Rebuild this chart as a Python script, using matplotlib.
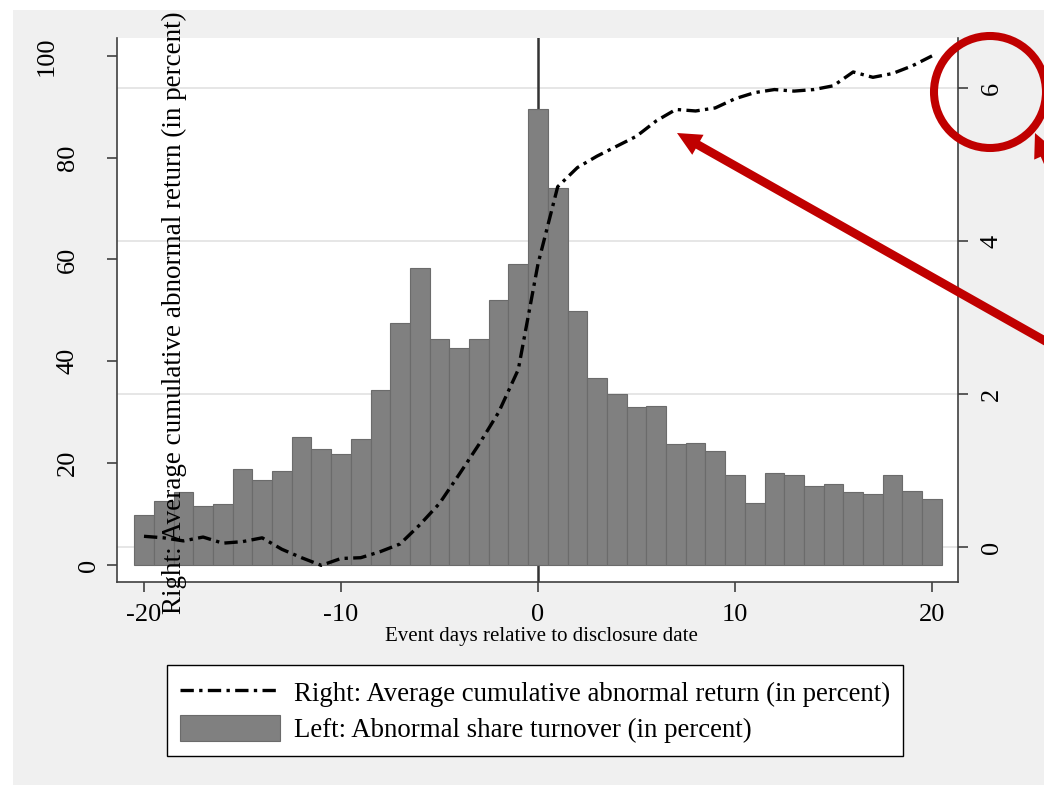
import matplotlib
matplotlib.use('Agg')
import matplotlib.pyplot as plt
import matplotlib.transforms as mtransforms
from matplotlib.patches import Rectangle, Circle, FancyArrow, Patch
from matplotlib.lines import Line2D

plt.rcParams['font.family'] = ['Liberation Serif', 'DejaVu Serif']
plt.rcParams['axes.unicode_minus'] = False

# ---------------- data ----------------
days = list(range(-20, 21))
turnover = [9.9, 12.5, 14.4, 11.5, 12.0, 18.8, 16.7, 18.5, 25.1, 22.8, 21.8,
            24.7, 34.3, 47.6, 58.3, 44.3, 42.6, 44.3, 52.0, 59.2, 89.6, 74.0,
            49.9, 36.8, 33.5, 31.1, 31.2, 23.7, 23.9, 22.4, 17.6, 12.1, 18.0,
            17.6, 15.5, 16.0, 14.3, 13.9, 17.7, 14.6, 13.0]
car = [0.14, 0.12, 0.08, 0.13, 0.05, 0.07, 0.12, -0.03, -0.14, -0.24, -0.15,
       -0.14, -0.06, 0.04, 0.29, 0.57, 0.95, 1.34, 1.76, 2.32, 3.70, 4.71,
       4.96, 5.11, 5.24, 5.37, 5.57, 5.72, 5.70, 5.74, 5.86, 5.94, 5.98,
       5.96, 5.98, 6.03, 6.21, 6.14, 6.19, 6.29, 6.42]
left_ticks = [0, 20, 40, 60, 80, 100]
left_tick_labels = ['0', '20', '40', '60', '80', '100']
right_ticks = [0, 2, 4, 6]
right_tick_labels = ['0', '2', '4', '6']
x_ticks = [-20, -10, 0, 10, 20]
x_tick_labels = ['-20', '-10', '0', '10', '20']
label_car = 'Right: Average cumulative abnormal return (in percent)'
label_turn = 'Left: Abnormal share turnover (in percent)'
xlabel = 'Event days relative to disclosure date'

# ---------------- figure ----------------
W, H = 1044, 785
fig = plt.figure(figsize=(W / 100, H / 100), dpi=100, facecolor='white')
T = mtransforms.Affine2D().scale(1, -1).translate(0, H)  # image pixels -> display

fig.add_artist(Rectangle((13, 10), W - 13, H - 10, transform=T,
                         facecolor='#f0f0f0', edgecolor='none', zorder=-10))

rect = [117 / W, 1 - 582 / H, (958 - 117) / W, (582 - 38) / H]
spine_col = '#404040'
fs = 19

# right-scale axes (background, gridlines, right ticks)
ax_r = fig.add_axes(rect, zorder=0)
ax_r.set_facecolor('white')
ax_r.set_ylim(-0.4575, 6.654)
ax_r.yaxis.tick_right()
ax_r.set_yticks(right_ticks)
ax_r.set_yticklabels([])
ax_r.grid(axis='y', color='#e6e6e6', lw=1.4)
ax_r.set_axisbelow(True)
ax_r.tick_params(axis='x', which='both', bottom=False, labelbottom=False)
ax_r.tick_params(axis='y', direction='out', length=7.2, width=1.2, color=spine_col)
for s in ['left', 'top', 'bottom']:
    ax_r.spines[s].set_visible(False)
ax_r.spines['right'].set_color(spine_col)
ax_r.spines['right'].set_linewidth(1.2)

# left-scale axes (bars)
ax_l = fig.add_axes(rect, zorder=1, sharex=ax_r)
ax_l.patch.set_visible(False)
ax_l.axvline(0, color='#333333', lw=1.8, zorder=1)
ax_l.bar(days, turnover, width=1.0, color='#808080', edgecolor='#6b6b6b',
         linewidth=0.8, zorder=2)
ls = (0, (4, 1.6, 1, 1.6))
ax_l.plot(days, car, transform=ax_r.transData, color='black', lw=2.4,
          linestyle=ls, dash_capstyle='butt', zorder=3)
ax_l.set_xlim(-21.37, 21.32)
ax_l.set_ylim(-3.34, 103.5)
ax_l.set_yticks(left_ticks)
ax_l.set_yticklabels([])
ax_l.set_xticks(x_ticks)
ax_l.set_xticklabels(x_tick_labels, fontsize=fs)
ax_l.tick_params(axis='x', direction='out', length=7.2, width=1.2, pad=8.4,
                 color=spine_col)
ax_l.tick_params(axis='y', direction='out', length=7.2, width=1.2, color=spine_col)
for s in ['top', 'right']:
    ax_l.spines[s].set_visible(False)
for s in ['left', 'bottom']:
    ax_l.spines[s].set_color(spine_col)
    ax_l.spines[s].set_linewidth(1.2)

# rotated tick labels
for v, s in zip(left_ticks, left_tick_labels):
    off = 6 + 21.5 * len(s)
    ax_l.annotate(s, xy=(0, v), xycoords=('axes fraction', 'data'),
                  xytext=(-off, 0), textcoords='offset pixels', rotation=90,
                  ha='center', va='center', fontsize=fs, annotation_clip=False)
for v, s in zip(right_ticks, right_tick_labels):
    ax_r.annotate(s, xy=(1, v), xycoords=('axes fraction', 'data'),
                  xytext=(34, 0), textcoords='offset pixels', rotation=90,
                  ha='center', va='center', fontsize=fs, annotation_clip=False)

# axis titles
fig.text(174 / W, 1 - 313 / H, label_car, rotation=90, ha='center',
         va='center', fontsize=19.5, zorder=5)
fig.text(541 / W, 1 - 636 / H, xlabel, ha='center', va='center', fontsize=15)

# legend
handles = [Line2D([], [], color='black', lw=2.4, linestyle=ls, dash_capstyle='butt'),
           Patch(facecolor='#808080', edgecolor='#6b6b6b', lw=0.8)]
leg = fig.legend(handles, [label_car, label_turn], loc='upper left',
                 bbox_to_anchor=(167 / W, 1 - 665 / H), bbox_transform=fig.transFigure,
                 borderaxespad=0, fontsize=19.4, frameon=True, fancybox=False,
                 edgecolor='black', framealpha=1, handlelength=3.7,
                 handleheight=1.1, handletextpad=0.5, borderpad=0.5,
                 labelspacing=0.3)
leg.get_frame().set_linewidth(1.0)

# red annotations
red = '#c00000'
fig.add_artist(Circle((990, 92), 56, transform=T, fill=False, edgecolor=red,
                      lw=5.8, zorder=10))
fig.add_artist(FancyArrow(1100, 372, 677 - 1100, 133 - 372, width=8.7,
                          head_width=23, head_length=24, length_includes_head=True,
                          color=red, lw=0, transform=T, zorder=10))
fig.add_artist(FancyArrow(1116, 316, 1035 - 1116, 133 - 316, width=8.7,
                          head_width=23, head_length=24, length_includes_head=True,
                          color=red, lw=0, transform=T, zorder=10))

fig.savefig('out.png', dpi=100, facecolor='white')
